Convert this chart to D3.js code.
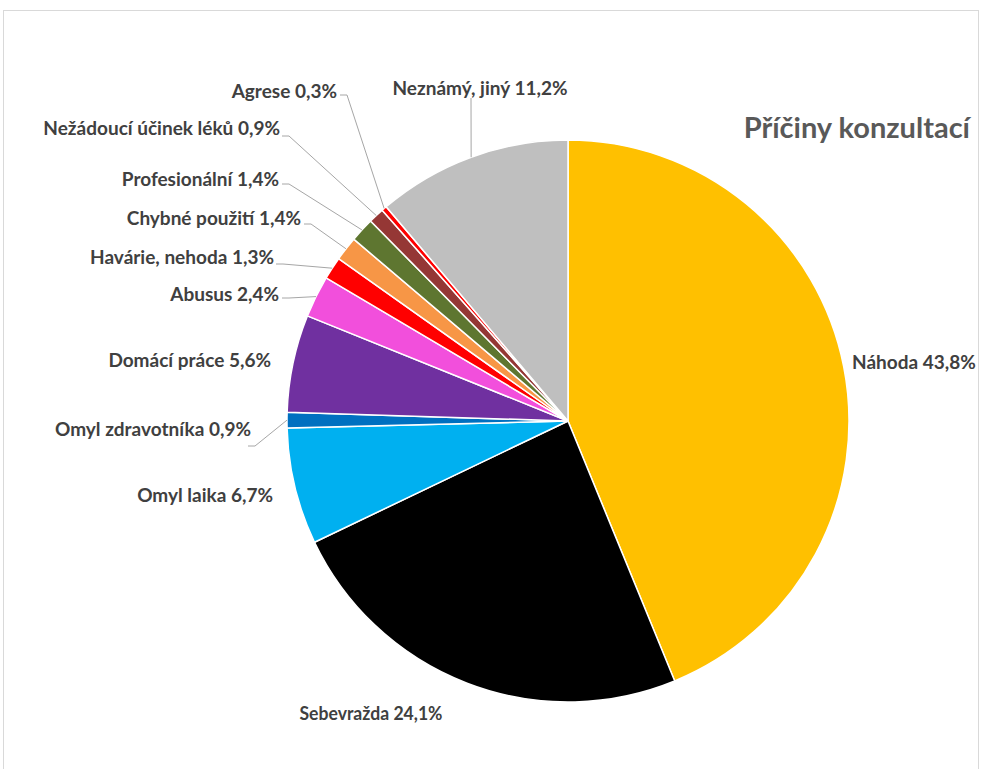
<!DOCTYPE html>
<html><head><meta charset="utf-8">
<script src="https://cdn.jsdelivr.net/npm/d3@7"></script>
<style>
html,body{margin:0;padding:0;background:#fff;}
svg{display:block;}
</style>
</head><body>
<svg id="chart" width="981" height="769"></svg>
<script>
// ---- data ----
const categories = ["Náhoda","Sebevražda","Omyl laika","Omyl zdravotníka","Domácí práce","Abusus","Havárie, nehoda","Chybné použití","Profesionální","Nežádoucí účinek léků","Agrese","Neznámý, jiný"];
const values = [43.8,24.1,6.7,0.9,5.6,2.4,1.3,1.4,1.4,0.9,0.3,11.2];
const valueLabels = ["43,8%","24,1%","6,7%","0,9%","5,6%","2,4%","1,3%","1,4%","1,4%","0,9%","0,3%","11,2%"];
const title = "Příčiny konzultací";

// ---- styles / layout ----
const colors = ["#FFC000","#000000","#00B0F0","#0070C0","#7030A0","#F24FDC","#FF0000","#F79646","#5E7630","#953735","#FF0000","#BFBFBF"];
// label anchor [x, baseline y, anchor], leader start [x,y] or null, font size, squeezed width
const labelPos = [
  [852,369,"start",null,19,null],
  [371,720,"middle",null,19,143],
  [273,502,"end",null,19,null],
  [251,436,"end",[248,446],19,null],
  [271,367,"end",null,19,null],
  [279,301,"end",[282,298],19,null],
  [274,264,"end",[276,264],19,null],
  [301,225,"end",[304,224],19,null],
  [279,186,"end",[282,184],19,null],
  [280,135,"end",[282,136],19,null],
  [337,98,"end",[340,95],19,null],
  [480,95,"middle",[471,98],19,null]
];

const svg = d3.select("#chart");
const cx = 568, cy = 421, R = 281;

svg.append("rect").attr("x",3.5).attr("y",10.5).attr("width",975).attr("height",790)
  .attr("fill","#fff").attr("stroke","#d9d9d9").attr("stroke-width",1);

const pie = d3.pie().sort(null).value(d=>d)(values);
const arc = d3.arc().innerRadius(0).outerRadius(R);
const g = svg.append("g").attr("transform",`translate(${cx},${cy})`);

g.selectAll("path.slice").data(pie).enter().append("path")
  .attr("class","slice")
  .attr("d",arc)
  .attr("fill",(d,i)=>colors[i])
  .attr("stroke","#fff").attr("stroke-width",1.5).attr("stroke-linejoin","round");

// leader lines
const lines = svg.append("g");
pie.forEach((d,i)=>{
  const lp = labelPos[i];
  if(!lp[3]) return;
  const a = (d.startAngle+d.endAngle)/2;
  const ex = cx + R*Math.sin(a), ey = cy - R*Math.cos(a);
  const [sx,sy] = lp[3];
  let pts;
  if (lp[2]==="middle") pts = [[sx,sy],[ex,ey]];
  else pts = [[sx,sy],[sx+7,sy],[ex,ey]];
  lines.append("path").attr("d",d3.line()(pts))
    .attr("fill","none").attr("stroke","#A6A6A6").attr("stroke-width",1);
});

// labels
const labels = svg.append("g").selectAll("text").data(categories).enter().append("text")
  .attr("x",(d,i)=>labelPos[i][0])
  .attr("y",(d,i)=>labelPos[i][1])
  .attr("text-anchor",(d,i)=>labelPos[i][2])
  .attr("font-family","Lato, 'Open Sans', sans-serif")
  .attr("font-weight","700")
  .attr("font-size",(d,i)=>labelPos[i][4])
  .attr("fill","#404040")
  .text((d,i)=>d+" "+valueLabels[i]);
labels.filter((d,i)=>labelPos[i][5]!=null)
  .attr("textLength",(d,i,n)=>labelPos[categories.indexOf(d)][5])
  .attr("lengthAdjust","spacingAndGlyphs");

svg.append("text").attr("x",970).attr("y",138).attr("text-anchor","end")
  .attr("font-family","Lato, 'Open Sans', sans-serif").attr("font-weight","700")
  .attr("font-size",29).attr("fill","#595959").text(title);
</script>
</body></html>
